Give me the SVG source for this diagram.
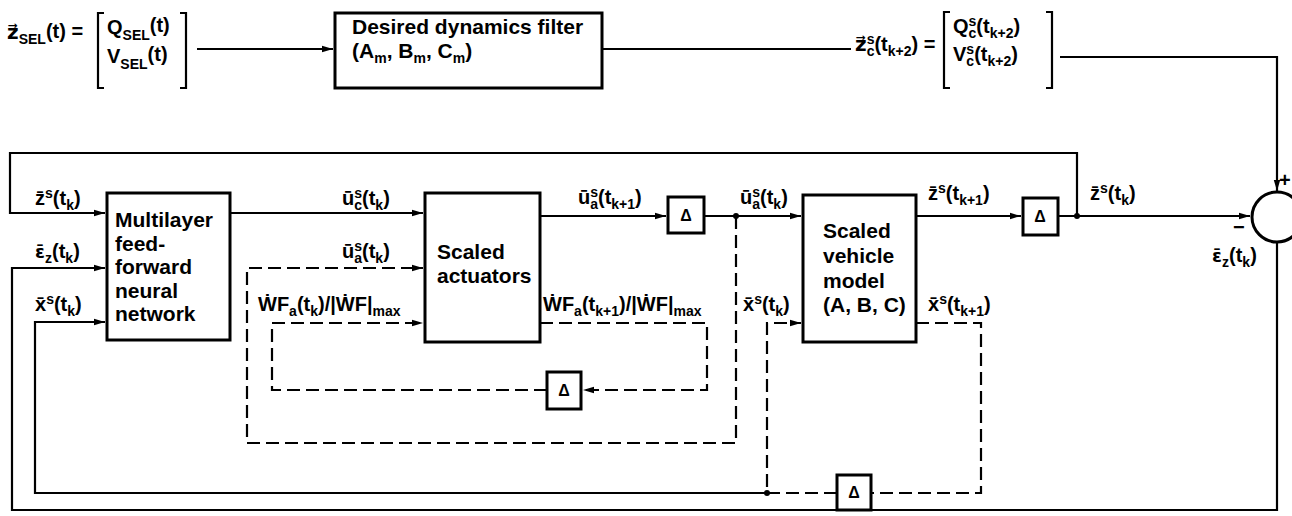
<svg xmlns="http://www.w3.org/2000/svg" width="1292" height="516" viewBox="0 0 1292 516">
<defs>
<marker id="ar" markerUnits="userSpaceOnUse" markerWidth="12" markerHeight="8" refX="11" refY="4" orient="auto">
<path d="M0,0.8 L11,4 L0,7.2 Z" fill="#000" stroke="none"/>
</marker>
<style>
.t{font-family:"Liberation Sans",Arial,"DejaVu Sans",sans-serif;font-weight:bold;font-size:20px;fill:#000}
.b{font-size:21px}
.s{font-size:14px}
.e{font-family:"DejaVu Sans",sans-serif;font-size:18px}
.ln{stroke:#000;stroke-width:2.2;fill:none}
.d{stroke-dasharray:13 6}
.box{stroke:#000;stroke-width:3;fill:#fff}
.dl{font-family:"Liberation Sans","DejaVu Sans",sans-serif;font-weight:bold;font-size:16px;text-anchor:middle}
</style>
</defs>
<rect width="1292" height="516" fill="#fff"/>

<g id="connectors">
<path class="ln" d="M197,49 H333" marker-end="url(#ar)"/>
<path class="ln" d="M602,49 H851"/>
<path class="ln" d="M1060,57 H1277 V191" marker-end="url(#ar)"/>
<path class="ln" d="M1077,216 V153 H10 V213 H105" marker-end="url(#ar)"/>
<path class="ln" d="M230,213 H423" marker-end="url(#ar)"/>
<path class="ln" d="M540,216 H666" marker-end="url(#ar)"/>
<path class="ln" d="M704,216 H801" marker-end="url(#ar)"/>
<path class="ln" d="M916,216 H1021" marker-end="url(#ar)"/>
<path class="ln" d="M1058,216 H1250" marker-end="url(#ar)"/>
<path class="ln" d="M1277,243 V510 H12 V268 H105" marker-end="url(#ar)"/>
<path class="ln" d="M767,493 H35 V322 H105" marker-end="url(#ar)"/>
<path class="ln d" d="M736,216 V443 H247 V268 H423" marker-end="url(#ar)"/>
<path class="ln d" d="M540,323 H707 V390 H583" marker-end="url(#ar)"/>
<path class="ln d" d="M547,390 H272 V323 H423" marker-end="url(#ar)"/>
<path class="ln d" d="M916,323 H981 V493 H871"/>
<path class="ln d" d="M837,493 H767 V323 H801" marker-end="url(#ar)"/>
<circle cx="1077" cy="216" r="3" fill="#000"/>
<circle cx="736" cy="216" r="3" fill="#000"/>
<circle cx="767" cy="493" r="3" fill="#000"/>
</g>

<g id="input-zsel">
<text class="t" x="7" y="39">z⃗<tspan class="s" dy="5">SEL</tspan><tspan dy="-6">(t) =</tspan></text>
<path class="ln" d="M104,13 H98 V88 H104 M180,13 H186 V88 H180"/>
<text class="t" x="107" y="34">Q<tspan class="s" dy="6">SEL</tspan><tspan dy="-8">(t)</tspan></text>
<text class="t" x="107" y="63">V<tspan class="s" dy="6">SEL</tspan><tspan dy="-8">(t)</tspan></text>
</g>

<g id="filter">
<rect class="box" x="335" y="13" width="267" height="75"/>
<text class="t b" x="352" y="34">Desired dynamics filter</text>
<text class="t b" x="352" y="58">(A<tspan class="s" dy="5">m</tspan><tspan dy="-5">, B</tspan><tspan class="s" dy="5">m</tspan><tspan dy="-5">, C</tspan><tspan class="s" dy="5">m</tspan><tspan dy="-5">)</tspan></text>
</g>

<g id="output-zc">
<text class="t" x="855" y="51">z⃗<tspan class="s" dy="-7">s</tspan><tspan class="s" dx="-7.8" dy="12">c</tspan><tspan dy="-5">(t</tspan><tspan class="s" dy="5">k+2</tspan><tspan dy="-5">) =</tspan></text>
<path class="ln" d="M950,12 H944 V88 H950 M1046,12 H1052 V88 H1046"/>
<text class="t" x="953" y="33">Q<tspan class="s" dy="-7">s</tspan><tspan class="s" dx="-7.8" dy="12">c</tspan><tspan dy="-5">(t</tspan><tspan class="s" dy="5">k+2</tspan><tspan dy="-5">)</tspan></text>
<text class="t" x="953" y="61">V<tspan class="s" dy="-7">s</tspan><tspan class="s" dx="-7.8" dy="12">c</tspan><tspan dy="-5">(t</tspan><tspan class="s" dy="5">k+2</tspan><tspan dy="-5">)</tspan></text>
</g>

<g id="nn">
<rect class="box" x="107" y="193" width="123" height="147"/>
<text class="t b" x="115" y="227">Multilayer</text>
<text class="t b" x="115" y="251">feed-</text>
<text class="t b" x="115" y="274">forward</text>
<text class="t b" x="115" y="298">neural</text>
<text class="t b" x="115" y="321">network</text>
</g>

<g id="actuators">
<rect class="box" x="425" y="193" width="115" height="149"/>
<text class="t b" x="437" y="259">Scaled</text>
<text class="t b" x="437" y="283">actuators</text>
</g>

<g id="vehicle">
<rect class="box" x="803" y="195" width="113" height="147"/>
<text class="t b" x="823" y="238">Scaled</text>
<text class="t b" x="823" y="263">vehicle</text>
<text class="t b" x="823" y="288">model</text>
<text class="t b" x="823" y="312">(A, B, C)</text>
</g>

<g id="delay1"><rect class="box" x="668" y="197" width="36" height="36"/><text class="dl" x="686" y="221">Δ</text></g>
<g id="delay2"><rect class="box" x="547" y="372" width="34" height="37"/><text class="dl" x="564" y="396">Δ</text></g>
<g id="delay3"><rect class="box" x="837" y="475" width="34" height="35"/><text class="dl" x="854" y="498">Δ</text></g>
<g id="delay4"><rect class="box" x="1023" y="198" width="35" height="37"/><text class="dl" x="1040" y="222">Δ</text></g>

<g id="sum">
<circle cx="1277" cy="217" r="25" fill="#fff" stroke="#000" stroke-width="3"/>
<text class="t" x="1279" y="187" font-size="18">+</text>
<text class="t" x="1233" y="234">−</text>
</g>

<g id="labels">
<text class="t" x="35" y="205">z̄<tspan class="s" dy="-7">s</tspan><tspan dy="7">(t</tspan><tspan class="s" dy="5">k</tspan><tspan dy="-5">)</tspan></text>
<text class="t" x="35" y="258"><tspan class="e">ε̄</tspan><tspan class="s" dy="5">z</tspan><tspan dy="-5">(t</tspan><tspan class="s" dy="5">k</tspan><tspan dy="-5">)</tspan></text>
<text class="t" x="35" y="311">x̄<tspan class="s" dy="-7">s</tspan><tspan dy="7">(t</tspan><tspan class="s" dy="5">k</tspan><tspan dy="-5">)</tspan></text>
<text class="t" x="342" y="205">ū<tspan class="s" dy="-7">s</tspan><tspan class="s" dx="-7.8" dy="12">c</tspan><tspan dy="-5">(t</tspan><tspan class="s" dy="5">k</tspan><tspan dy="-5">)</tspan></text>
<text class="t" x="342" y="258">ū<tspan class="s" dy="-7">s</tspan><tspan class="s" dx="-7.8" dy="12">a</tspan><tspan dy="-5">(t</tspan><tspan class="s" dy="5">k</tspan><tspan dy="-5">)</tspan></text>
<text class="t" x="258" y="311">ẆF<tspan class="s" dy="5">a</tspan><tspan dy="-5">(t</tspan><tspan class="s" dy="5">k</tspan><tspan dy="-5">)/|ẆF|</tspan><tspan class="s" dy="5">max</tspan></text>
<text class="t" x="578" y="204">ū<tspan class="s" dy="-7">s</tspan><tspan class="s" dx="-7.8" dy="12">a</tspan><tspan dy="-5">(t</tspan><tspan class="s" dy="5">k+1</tspan><tspan dy="-5">)</tspan></text>
<text class="t" x="740" y="204">ū<tspan class="s" dy="-7">s</tspan><tspan class="s" dx="-7.8" dy="12">a</tspan><tspan dy="-5">(t</tspan><tspan class="s" dy="5">k</tspan><tspan dy="-5">)</tspan></text>
<text class="t" x="543" y="311">ẆF<tspan class="s" dy="5">a</tspan><tspan dy="-5">(t</tspan><tspan class="s" dy="5">k+1</tspan><tspan dy="-5">)/|ẆF|</tspan><tspan class="s" dy="5">max</tspan></text>
<text class="t" x="743" y="311">x̄<tspan class="s" dy="-7">s</tspan><tspan dy="7">(t</tspan><tspan class="s" dy="5">k</tspan><tspan dy="-5">)</tspan></text>
<text class="t" x="928" y="200">z̄<tspan class="s" dy="-7">s</tspan><tspan dy="7">(t</tspan><tspan class="s" dy="5">k+1</tspan><tspan dy="-5">)</tspan></text>
<text class="t" x="928" y="311">x̄<tspan class="s" dy="-7">s</tspan><tspan dy="7">(t</tspan><tspan class="s" dy="5">k+1</tspan><tspan dy="-5">)</tspan></text>
<text class="t" x="1090" y="200">z̄<tspan class="s" dy="-7">s</tspan><tspan dy="7">(t</tspan><tspan class="s" dy="5">k</tspan><tspan dy="-5">)</tspan></text>
<text class="t" x="1212" y="262"><tspan class="e">ε̄</tspan><tspan class="s" dy="5">z</tspan><tspan dy="-5">(t</tspan><tspan class="s" dy="5">k</tspan><tspan dy="-5">)</tspan></text>
</g>
</svg>
